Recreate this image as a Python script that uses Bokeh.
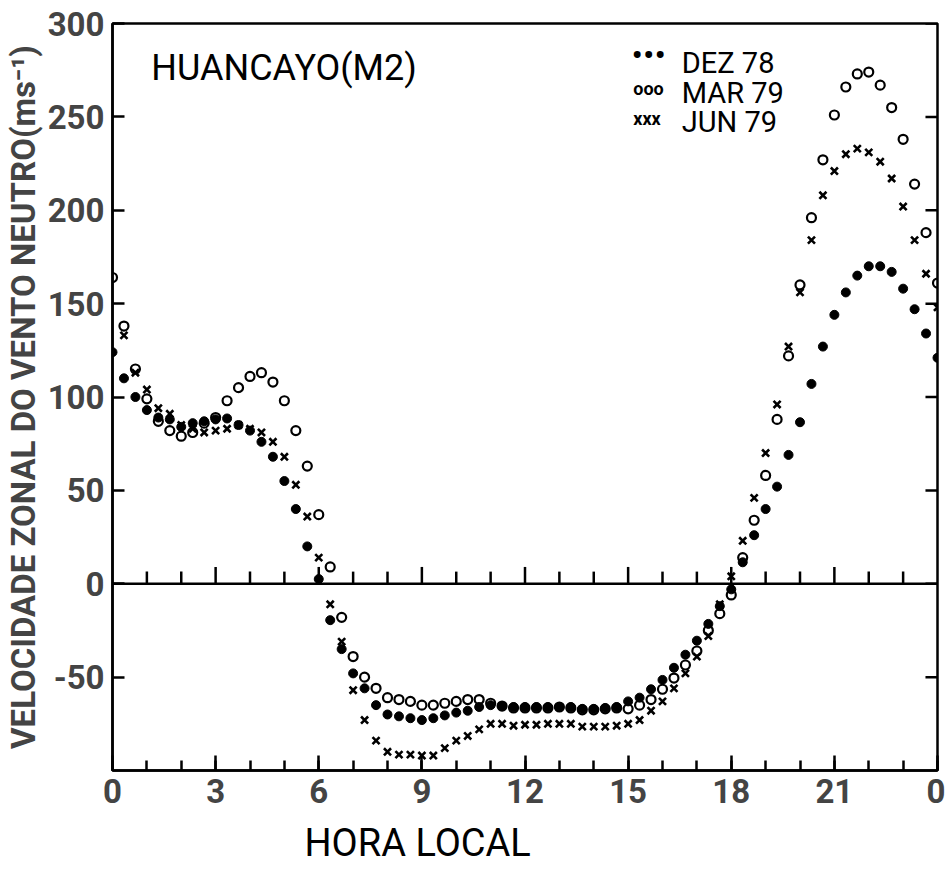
from bokeh.plotting import figure
from bokeh.models import Range1d, FixedTicker, Label, Span, Title
from bokeh.embed import file_html
from bokeh.resources import INLINE

nan = float("nan")

# sampling times: every 20 minutes, 0 h .. 24 h
hours = [k / 3 for k in range(73)]

dez_78 = [124, 110, 100, 93, 89, 88, 84, 86, 87, 88, 88.5, 85, 82, 76, 68, 55, 40, 20, 2.5,
          -19.5, -35, -48, -56, -65, -70, -71, -72, -73, -72, -70.5, -69, -68, -66, -65, -65.5,
          -66, -66, -66, -66, -66, -66, -67, -67, -66.5, -66, -63, -61, -56.5, -51.5, -45, -38,
          -30.5, -21.5, -12, -3, 11.5, 26, 40, 52, 69, 86.5, 107, 127, 144, 156, 165, 170, 170,
          167, 158, 147, 134, 121]
mar_79 = [164, 138, 115, 99, 87, 82, 79, 81, 86, 89, 98, 105, 111, 113, 108, 98, 82, 63, 37,
          9, -18, -39, -50, -56, -61, -62, -63, -65, -65, -64, -63, -62, -62, -64, -65.5,
          -66.5, -66.5, -66.5, -66.5, -66, -66.5, -67.5, -67.5, -67, -66.5, -67, -65, -62, -56.5,
          -50.5, -43.5, -36, -25, -16, -6, 14, 34, 58, 88, 122, 160, 196, 227, 251, 266, 273,
          274, 267, 255, 238, 214, 188, 161]
jun_79 = [nan, 133, 113, 104, 94, 91, 85, 83, 81, 82, 83, 85, 83, 81, 76, 68, 53, 36, 14,
          -11, -31, -57, -73, -84, -90, -91.5, -91.5, -92, -92, -88, -84, -81.5, -78, -75, -75,
          -76, -75.5, -75.5, -75, -75, -75, -76.5, -76.5, -76.5, -76, -75, -73, -68, -63, -56,
          -48, -39, -28, -11, 4, 23, 46, 70, 96, 127, 156, 184, 208, 221, 230, 233, 231, 226,
          217, 202, 184, 166, 148]

x_major = [0, 3, 6, 9, 12, 15, 18, 21, 24]
x_minor = list(range(25))
x_labels = {24: "0"}
y_ticks = [-50, 0, 50, 100, 150, 200, 250, 300]

FONT = "Roboto"

p = figure(width=945, height=877, x_range=Range1d(0, 24), y_range=Range1d(-100, 300),
           output_backend="svg", toolbar_location=None,
           min_border_left=108, min_border_right=8, min_border_top=23, min_border_bottom=107)
p.grid.visible = False
p.outline_line_color = "black"
p.outline_line_width = 2.5
p.background_fill_color = "white"
p.border_fill_color = "white"

xa = p.xaxis[0]
xa.ticker = FixedTicker(ticks=x_major, minor_ticks=x_minor)
xa.major_label_overrides = x_labels
xa.major_tick_in = 15
xa.major_tick_out = 0
xa.minor_tick_in = 10
xa.minor_tick_out = 0
xa.axis_line_width = 2.5
xa.major_tick_line_width = 2.5
xa.minor_tick_line_width = 2.5
xa.major_label_text_font = FONT
xa.major_label_text_font_size = "33px"
xa.major_label_text_font_style = "bold"
xa.major_label_standoff = 8

ya = p.yaxis[0]
ya.ticker = FixedTicker(ticks=y_ticks)
ya.major_label_overrides = {-50: "-50"}
ya.major_tick_in = 12
ya.major_tick_out = 0
ya.minor_tick_in = 0
ya.minor_tick_out = 0
ya.axis_line_width = 2.5
ya.major_tick_line_width = 2.5
ya.major_label_text_font = FONT
ya.major_label_text_font_size = "33px"
ya.major_label_text_font_style = "bold"
ya.major_label_standoff = 8
ya.axis_label = "VELOCIDADE ZONAL DO VENTO NEUTRO(ms\u207b\u00b9)"
ya.axis_label_text_font = FONT
ya.axis_label_text_font_size = "33px"
ya.axis_label_text_font_style = "bold"
ya.axis_label_standoff = 2

# x-axis title, below the tick labels and somewhat left of centre as in the original
p.add_layout(Title(text="HORA LOCAL", align="left", offset=192, standoff=26,
                   text_font=FONT, text_font_size="38px", text_font_style="normal",
                   text_line_height=0.85, text_color="black"), "below")

# inward ticks on the right-hand frame edge
p.segment(x0=[24] * len(y_ticks), y0=y_ticks, x1=[23.65] * len(y_ticks), y1=y_ticks,
          line_color="black", line_width=2.5)

# zero line with hour ticks
p.add_layout(Span(location=0, dimension="width", line_color="black", line_width=2.5))
inner_hours = x_minor[1:-1]
tick_top = [9 if h % 3 == 0 else 6.5 for h in inner_hours]
p.segment(x0=inner_hours, y0=[0] * len(inner_hours), x1=inner_hours, y1=tick_top,
          line_color="black", line_width=2.5)

p.scatter(hours, dez_78, marker="circle", size=9, fill_color="black", line_color="black")
p.scatter(hours, mar_79, marker="circle", size=9, fill_alpha=0, line_color="black", line_width=2.2)
p.scatter(hours, jun_79, marker="x", size=10, line_color="black", line_width=2.6)

p.add_layout(Label(x=1.13, y=276, text="HUANCAYO(M2)", text_font=FONT, text_font_size="36px",
                   text_color="black", text_baseline="alphabetic"))

leg_rows = [("\u2022\u2022\u2022", "DEZ 78", 279.1), ("ooo", "MAR 79", 263.0), ("xxx", "JUN 79", 247.0)]
for sym, name, yb in leg_rows:
    if sym.startswith("\u2022"):
        p.add_layout(Label(x=15.1, y=yb + 4, text=sym, text_font=FONT, text_font_size="34px",
                           text_color="black", text_baseline="middle"))
    else:
        p.add_layout(Label(x=15.15, y=yb + 2, text=sym, text_font=FONT, text_font_size="18px",
                           text_font_style="bold", text_color="black",
                           text_baseline="alphabetic"))
    p.add_layout(Label(x=16.56, y=yb, text=name, text_font=FONT, text_font_size="29px",
                       text_color="black", text_baseline="alphabetic"))

open("out.html", "w").write(file_html(p, INLINE))
